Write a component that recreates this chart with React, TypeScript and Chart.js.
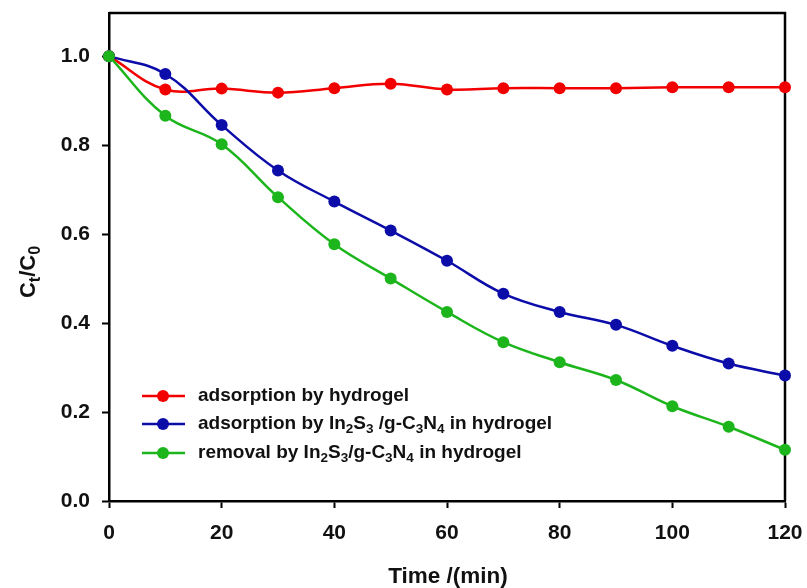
import React, { useEffect, useRef } from "react";
import { Chart, registerables } from "chart.js";

Chart.register(...registerables);

const times = [0, 10, 20, 30, 40, 50, 60, 70, 80, 90, 100, 110, 120];
const adsorptionHydrogel = [1.0, 0.925, 0.927, 0.918, 0.928, 0.938, 0.925, 0.928, 0.928, 0.928, 0.93, 0.93, 0.93];
const adsorptionComposite = [1.0, 0.96, 0.845, 0.743, 0.673, 0.608, 0.54, 0.466, 0.425, 0.396, 0.349, 0.309, 0.282];
const removalComposite = [1.0, 0.866, 0.802, 0.683, 0.577, 0.5, 0.425, 0.357, 0.312, 0.272, 0.213, 0.167, 0.115];
const yTickValues = [0, 0.2, 0.4, 0.6, 0.8, 1.0];
const xTickValues = [0, 20, 40, 60, 80, 100, 120];

const RED = "#f20000";
const BLUE = "#0c0ca8";
const GREEN = "#1cb51c";
const FONT = "'Liberation Sans', Arial, sans-serif";

type Seg = { t: string; sub?: boolean };

const legendItems: { color: string; segs: Seg[] }[] = [
  { color: RED, segs: [{ t: "adsorption by hydrogel" }] },
  {
    color: BLUE,
    segs: [
      { t: "adsorption by In" }, { t: "2", sub: true }, { t: "S" }, { t: "3", sub: true },
      { t: " /g-C" }, { t: "3", sub: true }, { t: "N" }, { t: "4", sub: true }, { t: " in hydrogel" },
    ],
  },
  {
    color: GREEN,
    segs: [
      { t: "removal by In" }, { t: "2", sub: true }, { t: "S" }, { t: "3", sub: true },
      { t: "/g-C" }, { t: "3", sub: true }, { t: "N" }, { t: "4", sub: true }, { t: " in hydrogel" },
    ],
  },
];

function drawSegs(ctx: CanvasRenderingContext2D, segs: Seg[], x: number, y: number, size: number, subSize: number, center = false) {
  const main = `bold ${size}px ${FONT}`;
  const sub = `bold ${subSize}px ${FONT}`;
  let total = 0;
  for (const s of segs) {
    ctx.font = s.sub ? sub : main;
    total += ctx.measureText(s.t).width;
  }
  let cx = center ? x - total / 2 : x;
  ctx.textBaseline = "middle";
  ctx.textAlign = "left";
  for (const s of segs) {
    ctx.font = s.sub ? sub : main;
    ctx.fillText(s.t, cx, s.sub ? y + size * 0.3 : y);
    cx += ctx.measureText(s.t).width;
  }
}

const decorPlugin = {
  id: "decor",
  beforeDatasetsDraw(chart: any) {
    const { ctx, chartArea } = chart;
    ctx.save();
    ctx.strokeStyle = "#000";
    ctx.lineWidth = 2.5;
    ctx.beginPath();
    ctx.moveTo(chartArea.left, chartArea.top);
    ctx.lineTo(chartArea.right, chartArea.top);
    ctx.lineTo(chartArea.right, chartArea.bottom);
    ctx.stroke();
    ctx.restore();
  },
  afterDraw(chart: any) {
    const { ctx } = chart;
    ctx.save();
    const rows = [396, 424, 453];
    legendItems.forEach((it, i) => {
      const y = rows[i];
      ctx.strokeStyle = it.color;
      ctx.lineWidth = 2.5;
      ctx.beginPath();
      ctx.moveTo(142, y);
      ctx.lineTo(185, y);
      ctx.stroke();
      ctx.fillStyle = it.color;
      ctx.beginPath();
      ctx.arc(163, y, 6, 0, Math.PI * 2);
      ctx.fill();
      ctx.fillStyle = "#111";
      drawSegs(ctx, it.segs, 198, y, 19, 13.5);
    });
    ctx.fillStyle = "#111";
    drawSegs(ctx, [{ t: "Time /(min)" }], 448, 577, 22.5, 15, true);
    ctx.translate(29, 272);
    ctx.rotate(-Math.PI / 2);
    drawSegs(ctx, [{ t: "C" }, { t: "t", sub: true }, { t: "/C" }, { t: "0", sub: true }], 0, 0, 22, 16, true);
    ctx.restore();
  },
};

export default function App() {
  const ref = useRef<HTMLCanvasElement | null>(null);
  useEffect(() => {
    if (!ref.current) return;
    const mk = (label: string, data: number[], color: string, order: number) => ({
      label,
      data: times.map((t, i) => ({ x: t, y: data[i] })),
      borderColor: color,
      backgroundColor: color,
      pointBackgroundColor: color,
      pointBorderColor: color,
      pointRadius: 6,
      pointBorderWidth: 0,
      borderWidth: 2.5,
      tension: 0.4,
      clip: false as any,
      order,
    });
    const tickFont = { family: FONT, size: 21, weight: "bold" as const };
    const chart = new Chart(ref.current, {
      type: "line",
      data: {
        datasets: [
          mk("adsorption by hydrogel", adsorptionHydrogel, RED, 2),
          mk("adsorption by In2S3 /g-C3N4 in hydrogel", adsorptionComposite, BLUE, 1),
          mk("removal by In2S3/g-C3N4 in hydrogel", removalComposite, GREEN, 0),
        ],
      },
      options: {
        animation: false,
        responsive: false,
        devicePixelRatio: 1,
        layout: { padding: { left: 0, right: 22, top: 13, bottom: 0 } },
        plugins: { legend: { display: false }, tooltip: { enabled: false } },
        scales: {
          x: {
            type: "linear",
            min: 0,
            max: 120,
            afterBuildTicks: (s: any) => { s.ticks = xTickValues.map((v) => ({ value: v })); },
            afterFit: (s: any) => {
              s.height = 87;
              s.paddingLeft = 0; s.paddingRight = 0; s.paddingTop = 0; s.paddingBottom = 0;
            },
            ticks: { font: tickFont, color: "#111", padding: 13, maxRotation: 0, autoSkip: false },
            grid: { drawOnChartArea: false, drawTicks: true, tickLength: 7, tickWidth: 2, tickColor: "#000" },
            border: { display: true, color: "#000", width: 2.5 },
          },
          y: {
            type: "linear",
            min: 0,
            max: 1.097,
            afterBuildTicks: (s: any) => { s.ticks = yTickValues.map((v) => ({ value: v })); },
            afterFit: (s: any) => {
              s.width = 109;
              s.paddingLeft = 0; s.paddingRight = 0; s.paddingTop = 0; s.paddingBottom = 0;
            },
            ticks: { font: tickFont, color: "#111", padding: 12, callback: (v: any) => Number(v).toFixed(1) },
            grid: { drawOnChartArea: false, drawTicks: true, tickLength: 7, tickWidth: 2, tickColor: "#000" },
            border: { display: true, color: "#000", width: 2.5 },
          },
        },
      },
      plugins: [decorPlugin],
    });
    return () => chart.destroy();
  }, []);
  return (
    <div style={{ position: "absolute", left: 0, top: 0, width: 807, height: 588, background: "#fff" }}>
      <canvas ref={ref} width={807} height={588} />
    </div>
  );
}
